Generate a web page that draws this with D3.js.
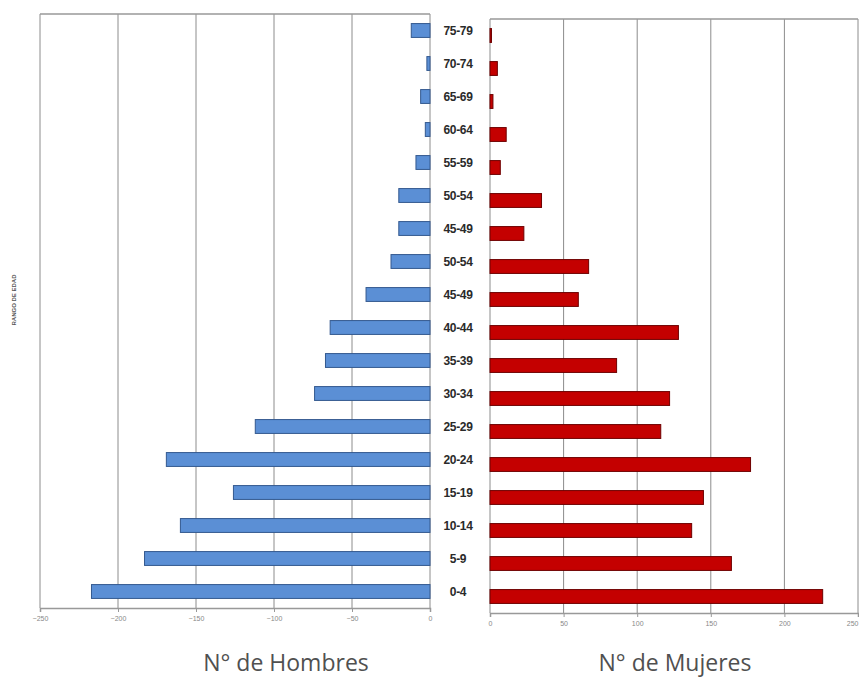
<!DOCTYPE html>
<html>
<head>
<meta charset="utf-8">
<script src="https://cdn.jsdelivr.net/npm/d3@7"></script>
<style>
body{margin:0;background:#fff;}
svg{display:block;}
</style>
</head>
<body>
<svg id="chart" width="859" height="680"></svg>
<script>
// Data (bottom to top, as in the reference)
const categories = ["0-4","5-9","10-14","15-19","20-24","25-29","30-34","35-39","40-44","45-49","50-54","45-49","50-54","55-59","60-64","65-69","70-74","75-79"];
const hombres = [217,183,160,126,169,112,74,67,64,41,25,20,20,9,3,6,2,12];
const mujeres = [226,164,137,145,177,116,122,86,128,60,67,23,35,7,11,2,5,1];
const ticksHombres = [-250,-200,-150,-100,-50,0];
const ticksMujeres = [0,50,100,150,200,250];
const titleHombres = "N° de Hombres";
const titleMujeres = "N° de Mujeres";
const yAxisTitle = "RANGO DE EDAD";

const svg = d3.select("#chart");
const idx = categories.map((c,i)=>i);

// Left panel (men)
const xL = d3.scaleLinear().domain([-250,0]).range([40,430]);
const yL = d3.scaleBand().domain(idx.slice().reverse()).range([14,608]).paddingInner(0.58).paddingOuter(0.29);
// Right panel (women)
const xR = d3.scaleLinear().domain([0,250]).range([490,858]);
const yR = d3.scaleBand().domain(idx.slice().reverse()).range([19,613]).paddingInner(0.58).paddingOuter(0.29);

function panel(x, y, ticks, top, bottom) {
  const g = svg.append("g");
  g.selectAll("line.grid").data(ticks).enter().append("line")
    .attr("x1", d=>x(d)).attr("x2", d=>x(d))
    .attr("y1", top).attr("y2", bottom)
    .attr("stroke", "#8c8c8c").attr("stroke-width", 1);
  g.append("line").attr("x1", x.range()[0]).attr("x2", x.range()[1])
    .attr("y1", top).attr("y2", top).attr("stroke", "#999").attr("stroke-width", 1.5);
  const ax = g.append("g").attr("transform", `translate(0,${bottom})`)
    .call(d3.axisBottom(x).tickValues(ticks).tickSize(4).tickFormat(d3.format("d")));
  ax.select(".domain").attr("stroke", "#999").attr("stroke-width", 1.5);
  ax.selectAll(".tick line").attr("stroke", "#999");
  ax.selectAll("text").attr("fill", "#888").attr("font-size", "7px")
    .attr("font-family", "Liberation Sans, Arial, sans-serif").attr("dy", "0.9em");
  return ax;
}

panel(xL, yL, ticksHombres, 14, 608);
const axR = panel(xR, yR, ticksMujeres, 19, 613);
axR.selectAll("text").filter(d=>d===250).attr("text-anchor", "end");

// Men bars
svg.append("g").selectAll("rect").data(idx).enter().append("rect")
  .attr("x", i=>xL(-hombres[i]))
  .attr("width", i=>xL(0)-xL(-hombres[i]))
  .attr("y", i=>yL(i))
  .attr("height", yL.bandwidth())
  .attr("fill", "#5b8fd5").attr("stroke", "#34598f").attr("stroke-width", 1);

// Women bars
svg.append("g").selectAll("rect").data(idx).enter().append("rect")
  .attr("x", xR(0))
  .attr("width", i=>xR(mujeres[i])-xR(0))
  .attr("y", i=>yR(i))
  .attr("height", yR.bandwidth())
  .attr("fill", "#c40000").attr("stroke", "#6e0000").attr("stroke-width", 1);

// Category labels in the middle
svg.append("g").selectAll("text").data(idx).enter().append("text")
  .attr("x", 458)
  .attr("y", i=>yL(i)+yL.bandwidth()/2)
  .attr("dy", "0.35em")
  .attr("text-anchor", "middle")
  .attr("font-family", "Liberation Sans Narrow, Liberation Sans, Arial, sans-serif")
  .attr("font-weight", "bold")
  .attr("font-size", "12px")
  .attr("letter-spacing", "-0.3px")
  .attr("fill", "#2a2a2a")
  .text(i=>categories[i]);

// Y axis title
svg.append("text")
  .attr("transform", "translate(16,300) rotate(-90)")
  .attr("text-anchor", "middle")
  .attr("font-family", "Liberation Sans, Arial, sans-serif")
  .attr("font-size", "6px").attr("font-weight", "bold")
  .attr("fill", "#555")
  .text(yAxisTitle);

// Titles
svg.append("text").attr("x", 286).attr("y", 671).attr("text-anchor", "middle")
  .attr("font-family", "Open Sans, sans-serif").attr("font-size", "23px").attr("fill", "#505050")
  .text(titleHombres);
svg.append("text").attr("x", 675).attr("y", 671).attr("text-anchor", "middle")
  .attr("font-family", "Open Sans, sans-serif").attr("font-size", "23px").attr("fill", "#505050")
  .text(titleMujeres);
</script>
</body>
</html>
